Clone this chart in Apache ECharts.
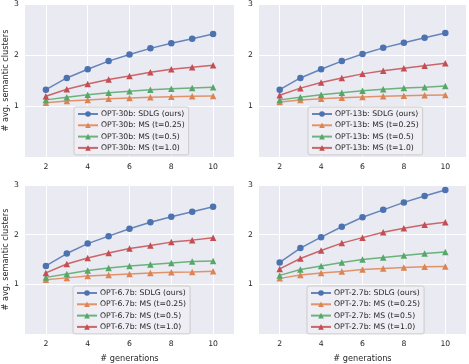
<!DOCTYPE html>
<html>
<head>
<meta charset="utf-8">
<script src="https://cdn.jsdelivr.net/npm/echarts@6/dist/echarts.min.js"></script>
<style>
  html, body { margin: 0; padding: 0; background: #fff; }
  #chart { width: 469px; height: 364px; }
</style>
</head>
<body>
<div id="chart"></div>
<script>
// data
const generations = [2, 3, 4, 5, 6, 7, 8, 9, 10]
const models = ['OPT-30b', 'OPT-13b', 'OPT-6.7b', 'OPT-2.7b']
const methods = ['SDLG (ours)', 'MS (t=0.25)', 'MS (t=0.5)', 'MS (t=1.0)']
const xTicks = [2, 4, 6, 8, 10]
const yTicks = [1, 2, 3]

const opt30bSdlg = [1.32, 1.55, 1.72, 1.88, 2.01, 2.13, 2.23, 2.32, 2.41]
const opt30bMs025 = [1.065, 1.10, 1.12, 1.14, 1.155, 1.17, 1.18, 1.19, 1.195]
const opt30bMs05 = [1.12, 1.17, 1.22, 1.26, 1.29, 1.32, 1.34, 1.355, 1.37]
const opt30bMs10 = [1.19, 1.33, 1.43, 1.52, 1.59, 1.66, 1.72, 1.76, 1.80]

const opt13bSdlg = [1.32, 1.55, 1.72, 1.88, 2.02, 2.14, 2.24, 2.34, 2.43]
const opt13bMs025 = [1.08, 1.12, 1.14, 1.16, 1.175, 1.19, 1.20, 1.21, 1.215]
const opt13bMs05 = [1.12, 1.17, 1.22, 1.26, 1.30, 1.33, 1.355, 1.37, 1.39]
const opt13bMs10 = [1.21, 1.35, 1.46, 1.55, 1.63, 1.69, 1.74, 1.79, 1.84]

const opt67bSdlg = [1.37, 1.62, 1.82, 1.97, 2.12, 2.25, 2.36, 2.46, 2.56]
const opt67bMs025 = [1.09, 1.13, 1.17, 1.19, 1.21, 1.23, 1.245, 1.25, 1.265]
const opt67bMs05 = [1.14, 1.21, 1.28, 1.33, 1.37, 1.40, 1.43, 1.46, 1.47]
const opt67bMs10 = [1.23, 1.41, 1.53, 1.63, 1.72, 1.78, 1.85, 1.89, 1.94]

const opt27bSdlg = [1.44, 1.73, 1.95, 2.16, 2.35, 2.50, 2.65, 2.78, 2.90]
const opt27bMs025 = [1.12, 1.19, 1.23, 1.26, 1.30, 1.32, 1.34, 1.355, 1.36]
const opt27bMs05 = [1.18, 1.30, 1.37, 1.44, 1.50, 1.54, 1.58, 1.62, 1.65]
const opt27bMs10 = [1.31, 1.52, 1.68, 1.83, 1.94, 2.05, 2.13, 2.20, 2.25]

const panelData = [
    [opt30bSdlg, opt30bMs025, opt30bMs05, opt30bMs10],
    [opt13bSdlg, opt13bMs025, opt13bMs05, opt13bMs10],
    [opt67bSdlg, opt67bMs025, opt67bMs05, opt67bMs10],
    [opt27bSdlg, opt27bMs025, opt27bMs05, opt27bMs10]
]

const colors = ['#4C72B0', '#DD8452', '#55A868', '#C44E52']
const symbols = ['circle', 'triangle', 'triangle', 'triangle']
const font = 'DejaVu Sans'
const fs = 7.7

// panel layout
const grids = [
    { left: 25, top: 4, width: 209, height: 153 },
    { left: 259, top: 4, width: 209, height: 153 },
    { left: 25, top: 185, width: 209, height: 154 },
    { left: 259, top: 185, width: 209, height: 154 }
]
const legendPos = [
    { left: 74, top: 107 },
    { left: 308, top: 107 },
    { left: 73, top: 286 },
    { left: 307, top: 286 }
]

const xAxes = []
const yAxes = []
const legends = []
const series = []

grids.forEach((g, i) => {
    g.backgroundColor = '#EAEAF2'
    g.show = true
    g.borderWidth = 0
    xAxes.push({
        type: 'value',
        gridIndex: i,
        min: 1,
        max: 11,
        interval: 1,
        name: i >= 2 ? '# generations' : '',
        nameLocation: 'middle',
        nameGap: 21,
        nameTextStyle: { fontFamily: font, fontSize: fs + 0.5, color: '#262626' },
        axisLine: { show: false },
        axisTick: { show: false },
        axisLabel: {
            fontFamily: font, fontSize: fs, color: '#262626', margin: 6,
            formatter: v => xTicks.includes(v) ? String(v) : ''
        },
        // only even values get a white line
        splitLine: { show: true, lineStyle: { color: ['rgba(0,0,0,0)', '#ffffff'], width: 1 } }
    })
    yAxes.push({
        type: 'value',
        gridIndex: i,
        min: 0,
        max: 3,
        interval: 1,
        name: i % 2 === 0 ? '# avg. semantic clusters' : '',
        nameLocation: 'middle',
        nameGap: 15,
        nameRotate: 90,
        nameTextStyle: { fontFamily: font, fontSize: fs + 0.5, color: '#262626' },
        axisLine: { show: false },
        axisTick: { show: false },
        axisLabel: {
            fontFamily: font, fontSize: fs, color: '#262626', margin: 6,
            formatter: v => yTicks.includes(v) ? String(v) : ''
        },
        splitLine: { show: true, lineStyle: { color: '#ffffff', width: 1 } }
    })
    const names = methods.map(m => `${models[i]}: ${m}`)
    legends.push({
        orient: 'vertical',
        left: legendPos[i].left,
        top: legendPos[i].top,
        data: names,
        backgroundColor: 'rgba(238,238,244,0.9)',
        borderColor: '#cccccc',
        borderWidth: 1,
        borderRadius: 2,
        padding: [3, 4, 3, 3],
        itemGap: 3.3,
        itemWidth: 20,
        itemHeight: 7,
        textStyle: { fontFamily: font, fontSize: fs, color: '#262626', padding: [0, 0, 0, -2] }
    })
    names.forEach((name, k) => {
        series.push({
            name: name,
            type: 'line',
            xAxisIndex: i,
            yAxisIndex: i,
            data: generations.map((x, j) => [x, panelData[i][k][j]]),
            symbol: symbols[k],
            symbolSize: 6.5,
            color: colors[k],
            lineStyle: { width: 1.5, opacity: 0.85 },
            itemStyle: { color: colors[k] },
            animation: false
        })
    })
})

const myChart = echarts.init(document.getElementById('chart'), null, { renderer: 'canvas' })
myChart.setOption({
    animation: false,
    grid: grids,
    xAxis: xAxes,
    yAxis: yAxes,
    legend: legends,
    series: series
})
</script>
</body>
</html>
